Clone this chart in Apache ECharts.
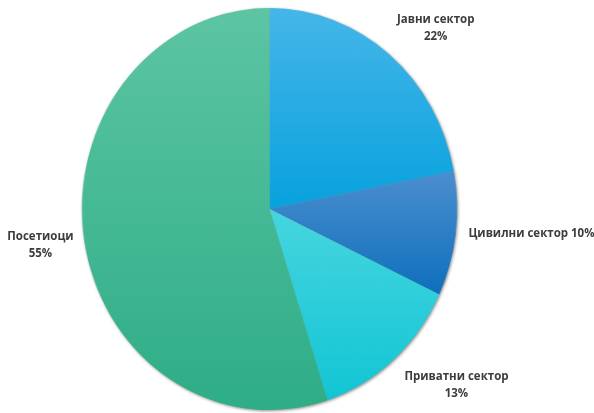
<!DOCTYPE html>
<html><head><meta charset="utf-8">
<script src="https://cdn.jsdelivr.net/npm/echarts@6/dist/echarts.min.js"></script>
<style>
html,body{margin:0;padding:0;background:#fff;}
#wrap{position:relative;width:594px;height:413px;}
#pie{position:absolute;left:0;top:0;width:594px;height:413px;transform:scaleX(0.933);transform-origin:269.5px 50%;filter:drop-shadow(1px 1px 1.5px rgba(0,0,0,0.45));}
#lab{position:absolute;left:0;top:0;width:594px;height:413px;}
</style></head>
<body><div id="wrap"><div id="pie"></div><div id="lab"></div></div>
<script>
const categories = ['Јавни сектор', 'Цивилни сектор', 'Приватни сектор', 'Посетиоци'];
const values = [22, 10, 13, 55];
const topColors = ['#46b6e9', '#4b8ecf', '#46d6df', '#5dc5a3'];
const bottomColors = ['#08a2de', '#0f6fbc', '#12c5d4', '#2ead87'];
const labelFormats = ['{b}\n{d}%', '{b} {d}%', '{b}\n{d}%', '{b}\n{d}%'];
const labelShift = [[34,-27],[59,0],[50,27],[-27,5]];

const center = [269.5, 209];
const radius = 201;

const pieData = categories.map((c, i) => ({
  name: c, value: values[i],
  itemStyle: { color: new echarts.graphic.LinearGradient(0, 0, 0, 1, [
    { offset: 0, color: topColors[i] }, { offset: 1, color: bottomColors[i] }]) }
}));

const pie = echarts.init(document.getElementById('pie'), null, { renderer: 'canvas' });
pie.setOption({
  animation: false,
  series: [{
    type: 'pie', center: center, radius: radius, startAngle: 90, clockwise: true,
    label: { show: false }, labelLine: { show: false },
    itemStyle: { borderWidth: 0 },
    emphasis: { disabled: true },
    data: pieData
  }]
});

const lab = echarts.init(document.getElementById('lab'), null, { renderer: 'canvas' });
lab.setOption({
  animation: false,
  series: [{
    type: 'pie', center: center, radius: radius * 0.933, startAngle: 90, clockwise: true,
    avoidLabelOverlap: false, silent: true,
    itemStyle: { color: 'rgba(0,0,0,0)' },
    labelLine: { show: false, length: 12, length2: 0 },
    emphasis: { disabled: true },
    data: categories.map((c, i) => ({
      name: c, value: values[i],
      label: { show: true, position: 'outside', formatter: labelFormats[i],
        fontFamily: 'Open Sans', fontWeight: 700, fontSize: 11.5, color: '#3c3c3c', lineHeight: 17, align: 'center' }
    })),
    labelLayout: function (p) {
      const s = labelShift[p.dataIndex];
      return { dx: s[0], dy: s[1], align: 'center', verticalAlign: 'middle' };
    }
  }]
});
</script></body></html>
